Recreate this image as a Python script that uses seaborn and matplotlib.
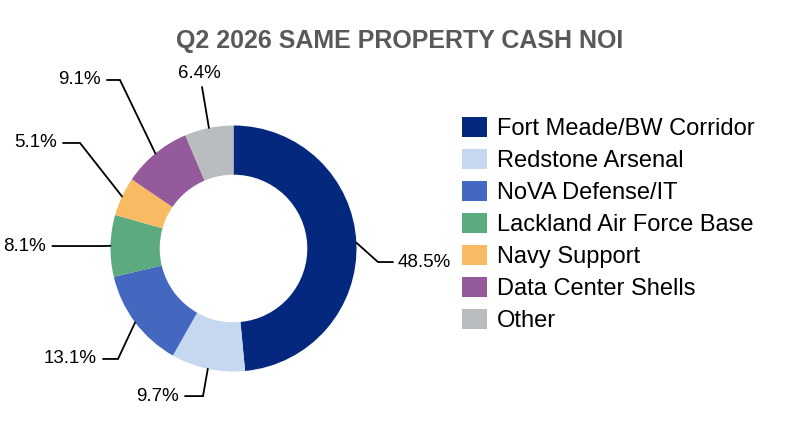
import numpy as np
import matplotlib
matplotlib.use("Agg")
import matplotlib.pyplot as plt
import seaborn as sns

# data
segments = ["Fort Meade/BW Corridor", "Redstone Arsenal", "NoVA Defense/IT",
            "Lackland Air Force Base", "Navy Support", "Data Center Shells", "Other"]
shares = [48.5, 9.7, 13.1, 8.1, 5.1, 9.1, 6.4]
label_text = ["48.5%", "9.7%", "13.1%", "8.1%", "5.1%", "9.1%", "6.4%"]
title = "Q2 2026 SAME PROPERTY CASH NOI"

colors = ["#05287F", "#C5D8F0", "#4468BF", "#5BAA80", "#F8BA62", "#945A9B", "#BABDBF"]

# label leader layout: elbow (relative to centre, in radius units), tail length (px)
elbows = [(1.175, -0.11), (-0.248, -1.2), (-0.939, -0.898), (-1.05, 0.02),
          (-1.248, 0.858), (-0.923, 1.37), (-0.256, 1.313)]
tails = [15, -18, -15, -52, -17, -13, 0]

sns.set_theme(style="white")
plt.rcParams["font.family"] = ["Liberation Sans", "DejaVu Sans"]
plt.rcParams["text.color"] = "black"

W, H = 786, 440
fig = plt.figure(figsize=(W / 100, H / 100), dpi=100)
ax = fig.add_axes([0, 0, 1, 1])

cx, cy, R = 233.5, H - 248.5, 123
pal = sns.color_palette(colors)
wedges, _ = ax.pie(shares, colors=pal, startangle=90, counterclock=False,
                   center=(cx, cy), radius=R, frame=True,
                   wedgeprops=dict(width=0.4 * R, linewidth=0))
ax.set_xlim(0, W)
ax.set_ylim(0, H)
ax.set_aspect("auto")
ax.axis("off")

for w, txt, (ex, ey), tail in zip(wedges, label_text, elbows, tails):
    mid = np.deg2rad((w.theta1 + w.theta2) / 2)
    ax_, ay_ = cx + R * np.cos(mid), cy + R * np.sin(mid)
    bx, by = cx + ex * R, cy + ey * R
    tx = bx + tail
    ax.plot([ax_, bx, tx], [ay_, by, by], color="black", lw=1.3,
            solid_joinstyle="miter")
    if tail > 0:
        ax.text(tx + 5, by, txt, ha="left", va="center", fontsize=13.5)
    elif tail < 0:
        ax.text(tx - 6, by, txt, ha="right", va="center", fontsize=13.5)
    else:
        ax.text(bx - 3, by + 5, txt, ha="center", va="bottom", fontsize=13.5)

leg = ax.legend(wedges, segments, loc="upper left",
                bbox_to_anchor=(462, H - 117), bbox_transform=ax.transData,
                frameon=False, fontsize=17, borderpad=0, borderaxespad=0,
                handlelength=1.06, handleheight=0.93, handletextpad=0.43,
                labelspacing=0.375)
for t in leg.get_texts():
    t.set_color("black")

fig.text(400 / W, 1 - 41 / H, title, ha="center", va="center",
         fontsize=18, fontweight="bold", color="#595959")

fig.savefig("out.png", dpi=100)
